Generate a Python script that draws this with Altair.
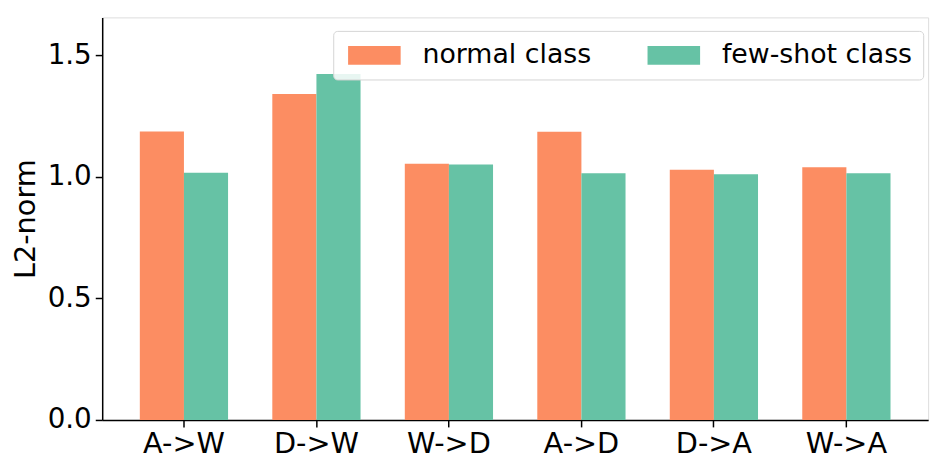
import altair as alt
import pandas as pd

categories = ["A->W", "D->W", "W->D", "A->D", "D->A", "W->A"]
normal_vals = [1.187, 1.342, 1.055, 1.186, 1.030, 1.040]
fewshot_vals = [1.018, 1.424, 1.051, 1.016, 1.011, 1.016]
series = ["normal class", "few-shot class"]
colors = ["#FC8D62", "#66C2A5"]
y_ticks = [0.0, 0.5, 1.0, 1.5]

rows = []
for c, n, f in zip(categories, normal_vals, fewshot_vals):
    rows.append({"task": c, "cls": series[0], "v": n, "o": 0})
    rows.append({"task": c, "cls": series[1], "v": f, "o": 1})
df = pd.DataFrame(rows)

FONT = "DejaVu Sans"

chart = alt.Chart(df).mark_bar().encode(
    x=alt.X("task:N", sort=categories,
            scale=alt.Scale(paddingInner=0.334, paddingOuter=0.284),
            axis=alt.Axis(title=None, labelAngle=0, labelFontSize=29, labelFont=FONT,
                          labelColor="black", tickColor="black", domainColor="black",
                          domainWidth=1.5, tickWidth=1.5, tickSize=7, labelPadding=3,
                          labelBaseline="top")),
    xOffset=alt.XOffset("cls:N", sort=series, scale=alt.Scale(paddingInner=0, paddingOuter=0)),
    y=alt.Y("v:Q", scale=alt.Scale(domain=[0, 1.657], nice=False, zero=True),
            axis=alt.Axis(title="L2-norm", values=y_ticks, format=".1f", grid=False,
                          labelFontSize=28, labelFont=FONT, labelColor="black",
                          tickColor="black", domainColor="black", domainWidth=1.5,
                          tickWidth=1.5, tickSize=7, labelPadding=4,
                          titleFontSize=29, titleFont=FONT, titleFontWeight="normal",
                          titleColor="black", titleAngle=270, titleX=-68, titleY=203,
                          titleAlign="center", titleBaseline="alphabetic")),
    color=alt.Color("cls:N", sort=series,
                    scale=alt.Scale(domain=series, range=colors),
                    legend=alt.Legend(title=None, orient="none", direction="horizontal",
                                      legendX=233, legendY=13.6,
                                      symbolType="M-1,-1L4.58,-1L4.58,1L-1,1Z",
                                      symbolSize=361, symbolStrokeWidth=0,
                                      symbolOpacity=1,
                                      labelFontSize=27, labelFont=FONT, labelColor="black",
                                      labelOffset=52, columnPadding=52, padding=11,
                                      strokeColor="#d4d4d4", fillColor="rgba(255,255,255,0.85)",
                                      cornerRadius=4, labelLimit=400)),
    order=alt.Order("o:Q"),
).properties(
    width=833, height=406,
    autosize=alt.AutoSizeParams(type="none"),
    padding={"left": 95, "top": 7.5, "right": 16, "bottom": 50},
).configure_view(
    stroke="black", strokeWidth=1.5
).configure(background="white")

chart.save("out.html", embed_options={"renderer": "svg", "actions": False})
